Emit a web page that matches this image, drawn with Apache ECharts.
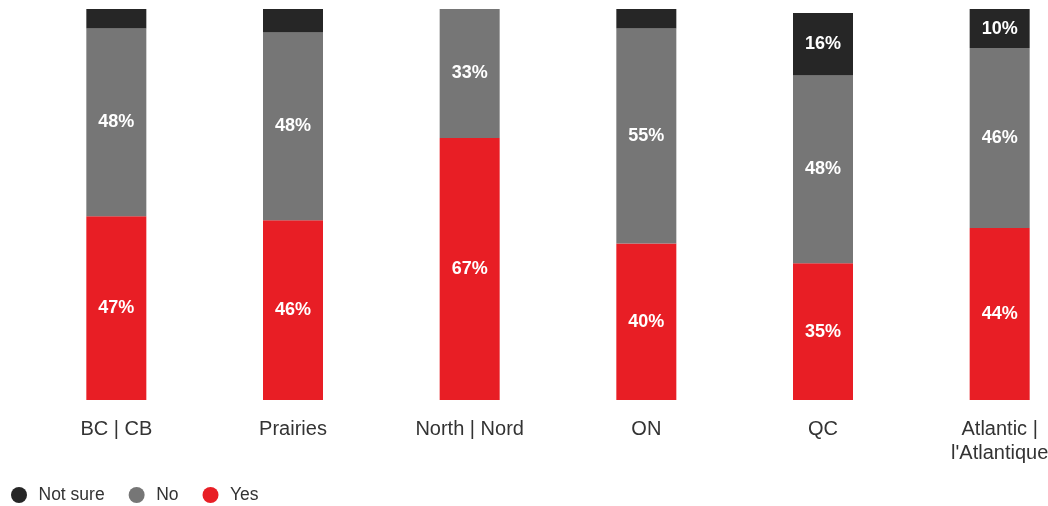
<!DOCTYPE html>
<html>
<head>
<meta charset="utf-8">
<script src="https://cdn.jsdelivr.net/npm/echarts@6/dist/echarts.min.js"></script>
<style>
  html, body { margin: 0; padding: 0; background: #fff; }
  #chart { width: 1048px; height: 506px; }
</style>
</head>
<body>
<div id="chart"></div>
<script>
const regions = ['BC | CB', 'Prairies', 'North | Nord', 'ON', 'QC', 'Atlantic |\nl\'Atlantique'];
const yesData = [47, 46, 67, 40, 35, 44];
const noData = [48, 48, 33, 55, 48, 46];
const notSureData = [5, 6, 0, 5, 16, 10];

const fontName = 'Liberation Sans, Arial, sans-serif';

const labelStyle = {
  show: true,
  position: 'inside',
  color: '#fff',
  fontSize: 18,
  fontWeight: 'bold',
  fontFamily: fontName,
  formatter: (p) => (p.value >= 10 ? p.value + '%' : '')
};

const chart = echarts.init(document.getElementById('chart'));

chart.setOption({
  animation: false,
  textStyle: { fontFamily: fontName },
  legend: {
    data: ['Not sure', 'No', 'Yes'],
    left: 6,
    top: 481,
    icon: 'circle',
    itemWidth: 16,
    itemHeight: 16,
    itemGap: 24,
    textStyle: { fontSize: 17.5, color: '#333', fontFamily: fontName, padding: [0, 0, 0, 6.5] }
  },
  grid: {
    left: 28,
    right: -40,
    top: 9,
    bottom: 106,
    outerBoundsMode: 'none',
    containLabel: false
  },
  xAxis: {
    type: 'category',
    data: regions,
    axisLine: { show: false },
    axisTick: { show: false },
    axisLabel: {
      color: '#333',
      fontSize: 20,
      margin: 17,
      lineHeight: 24,
      fontFamily: fontName
    }
  },
  yAxis: {
    type: 'value',
    min: 0,
    max: 100,
    show: false
  },
  series: [
    {
      name: 'Yes',
      type: 'bar',
      stack: 'total',
      barWidth: 60,
      itemStyle: { color: '#E81E25' },
      label: labelStyle,
      data: yesData
    },
    {
      name: 'No',
      type: 'bar',
      stack: 'total',
      barWidth: 60,
      itemStyle: { color: '#767676' },
      label: labelStyle,
      data: noData
    },
    {
      name: 'Not sure',
      type: 'bar',
      stack: 'total',
      barWidth: 60,
      itemStyle: { color: '#262626' },
      label: labelStyle,
      data: notSureData
    }
  ]
});
</script>
</body>
</html>
